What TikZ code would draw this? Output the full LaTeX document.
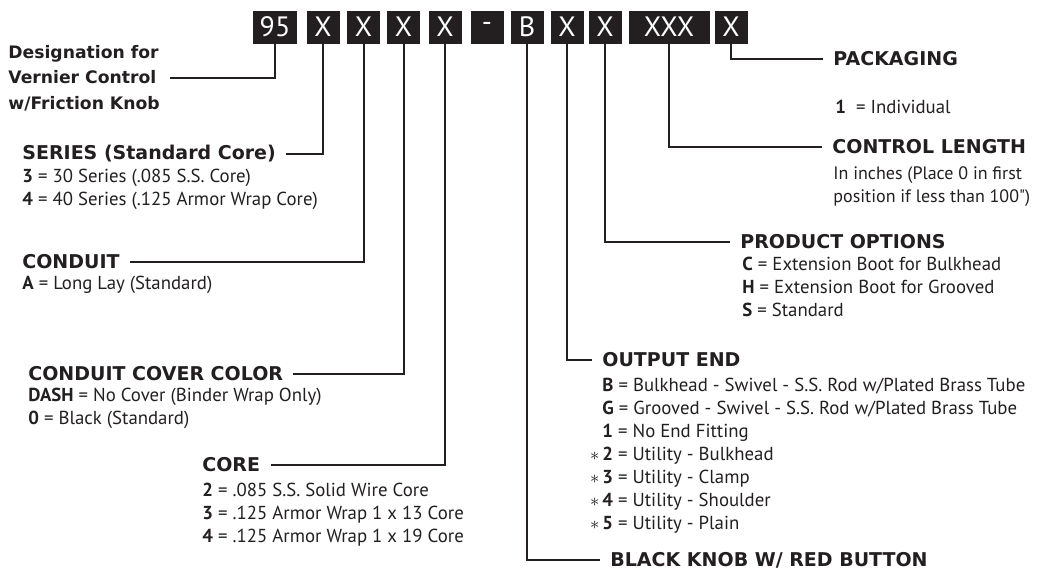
\documentclass[tikz,border=0pt]{standalone}
\usepackage{fontspec}
\setmainfont{PT Sans}
\newfontfamily\headfont{DejaVu Sans}
\newfontfamily\plainfont{PT Sans}
\usetikzlibrary{calc}
\definecolor{ink}{HTML}{231F20}

\begin{document}
\begin{tikzpicture}[x=0.5pt,y=-0.5pt,
    digit/.style={fill=ink,text=white,minimum height=16.5pt,minimum width=16.5pt,inner sep=0pt,font=\fontsize{14}{14}\selectfont},
    head/.style={anchor=west,inner xsep=5pt,inner ysep=1pt,text=ink,font=\headfont\bfseries\fontsize{9.5}{11.5}\selectfont},
    body/.style={anchor=west,align=left,inner sep=0pt,text=ink,font=\fontsize{9.4}{11.5}\selectfont},
    lead/.style={ink,line width=1pt}]
        \useasboundingbox (0,0) rectangle (1039,569);
        % the part number
        \node[digit,minimum width=22pt] (d95) at (275,27) {95};
        \node[digit] (dser) at (323,27) {X};
        \node[digit] (dcond) at (363.5,27) {X};
        \node[digit] (dcov) at (403.5,27) {X};
        \node[digit] (dcore) at (445,27) {X};
        \node[digit] (ddash) at (487,27) {-};
        \node[digit] (dknob) at (527,27) {B};
        \node[digit] (dout) at (567,27) {X};
        \node[digit] (dopt) at (605,27) {X};
        \node[digit,minimum width=40.5pt] (dlen) at (669,27) {XXX};
        \node[digit] (dpack) at (731,27) {X};
        % left side
        \node[head,align=left,font=\headfont\bfseries\fontsize{8.6}{12.8}\selectfont] (desig) at (-2,78) {Designation for\\Vernier Control\\w/Friction Knob};
        \node[head] (series) at (12,154) {SERIES (Standard Core)};
        \node[body] (serlist) at (22,189) {\textbf{3} = 30 Series (.085 S.S. Core)\\\textbf{4} = 40 Series (.125 Armor Wrap Core)};
        \node[head] (cond) at (12,262) {CONDUIT};
        \node[body] (condlist) at (22,285) {\textbf{A} = Long Lay (Standard)};
        \node[head] (cover) at (18,374) {CONDUIT COVER COLOR};
        \node[body] (covlist) at (28,408.5) {\textbf{DASH} = No Cover (Binder Wrap Only)\\\textbf{0} = Black (Standard)};
        \node[head] (core) at (192,465) {CORE};
        \node[body] (corelist) at (202,515) {\textbf{2} = .085 S.S. Solid Wire Core\\\textbf{3} = .125 Armor Wrap 1 x 13 Core\\\textbf{4} = .125 Armor Wrap 1 x 19 Core};
        % right side
        \node[head] (pack) at (823,59) {PACKAGING};
        \node[body] (packlist) at (835,107) {\textbf{1} \ = Individual};
        \node[head] (len) at (822,147) {CONTROL LENGTH};
        \node[body,font=\fontsize{9}{11.5}\selectfont] (lenlist) at (833,186.5) {In inches (Place 0 in first\\position if less than 100{\plainfont"})};
        \node[head] (opt) at (730,242) {PRODUCT OPTIONS};
        \node[body] (optlist) at (742,287) {\textbf{C} = Extension Boot for Bulkhead\\\textbf{H} = Extension Boot for Grooved\\\textbf{S} = Standard};
        \node[head] (outend) at (592,360) {OUTPUT END};
        \node[body] (outlist) at (602,455.5) {\textbf{B} = Bulkhead - Swivel - S.S. Rod w/Plated Brass Tube\\
            \textbf{G} = Grooved - Swivel - S.S. Rod w/Plated Brass Tube\\
            \textbf{1} = No End Fitting\\
            \llap{$\ast$\,}\textbf{2} = Utility - Bulkhead\\
            \llap{$\ast$\,}\textbf{3} = Utility - Clamp\\
            \llap{$\ast$\,}\textbf{4} = Utility - Shoulder\\
            \llap{$\ast$\,}\textbf{5} = Utility - Plain};
        \node[head] (knob) at (600,560) {BLACK KNOB W/ RED BUTTON};
        % leaders
        \draw[lead] (d95.south) |- (desig.east);
        \draw[lead] (dser.south) |- (series.east);
        \draw[lead] (dcond.south) |- (cond.east);
        \draw[lead] (dcov.south) |- (cover.east);
        \draw[lead] (dcore.south) |- (core.east);
        \draw[lead] (dknob.south) |- (knob.west);
        \draw[lead] (dout.south) |- (outend.west);
        \draw[lead] (dopt.south) |- (opt.west);
        \draw[lead] (dlen.south) |- (len.west);
        \draw[lead] (dpack.south) |- (pack.west);
\end{tikzpicture}
\end{document}
